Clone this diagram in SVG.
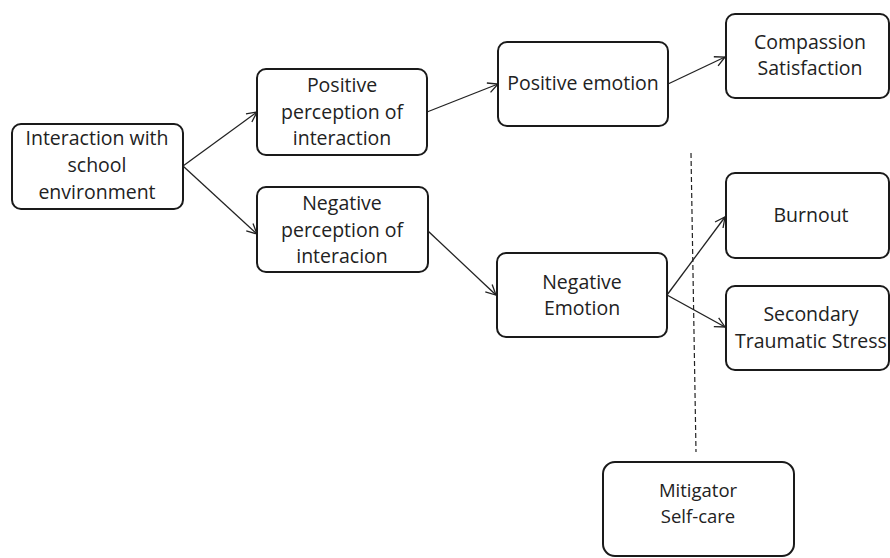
<svg xmlns="http://www.w3.org/2000/svg" width="890" height="558" viewBox="0 0 890 558">
<style>
.box{fill:#fff;stroke:#1a1a1a;stroke-width:2}
.t{font-family:"Open Sans","Noto Sans",sans-serif;font-size:19.5px;fill:#222;text-anchor:middle}
.ts{font-family:"Open Sans","Noto Sans",sans-serif;font-size:18.5px;fill:#222;text-anchor:middle}
.c{fill:none;stroke:#222;stroke-width:1.3}
</style>
<defs>
<marker id="a" viewBox="0 0 12 12" refX="11" refY="6" markerWidth="12" markerHeight="12" markerUnits="userSpaceOnUse" orient="auto">
<path d="M1,1 L11,6 L1,11" fill="none" stroke="#222" stroke-width="1.3"/>
</marker>
</defs>
<rect width="890" height="558" fill="#fff"/>
<g id="connectors">
<line class="c" x1="183" y1="166" x2="257" y2="112" marker-end="url(#a)"/>
<line class="c" x1="183" y1="166" x2="257" y2="234" marker-end="url(#a)"/>
<line class="c" x1="427" y1="112" x2="498" y2="84" marker-end="url(#a)"/>
<line class="c" x1="668" y1="84" x2="725" y2="57" marker-end="url(#a)"/>
<line class="c" x1="428" y1="231" x2="496" y2="295" marker-end="url(#a)"/>
<line class="c" x1="667" y1="295" x2="725" y2="217" marker-end="url(#a)"/>
<line class="c" x1="667" y1="295" x2="725" y2="327" marker-end="url(#a)"/>
<line x1="691" y1="153" x2="696" y2="452" stroke="#222" stroke-width="1.2" stroke-dasharray="5,3"/>
</g>
<g id="n-interaction">
<rect class="box" x="12" y="124" width="171" height="85" rx="9"/>
<text class="t" x="97" y="145.4">Interaction with</text>
<text class="t" x="97" y="172">school</text>
<text class="t" x="97" y="198.6">environment</text>
</g>
<g id="n-posperc">
<rect class="box" x="257" y="69" width="170" height="86" rx="9"/>
<text class="t" x="342" y="91.9">Positive</text>
<text class="t" x="342" y="118.5">perception of</text>
<text class="t" x="342" y="145.1">interaction</text>
</g>
<g id="n-negperc">
<rect class="box" x="257" y="187" width="171" height="85" rx="9"/>
<text class="t" x="342" y="209.9">Negative</text>
<text class="t" x="342" y="236.5">perception of</text>
<text class="t" x="342" y="263.1">interacion</text>
</g>
<g id="n-posemo">
<rect class="box" x="498" y="42" width="170" height="84" rx="9"/>
<text class="t" x="583" y="90">Positive emotion</text>
</g>
<g id="n-compassion">
<rect class="box" x="726" y="14" width="163" height="84" rx="9"/>
<text class="t" x="810" y="48.7">Compassion</text>
<text class="t" x="810" y="75.3">Satisfaction</text>
</g>
<g id="n-negemo">
<rect class="box" x="497" y="253" width="170" height="84" rx="9"/>
<text class="t" x="582" y="288.7">Negative</text>
<text class="t" x="582" y="315.3">Emotion</text>
</g>
<g id="n-burnout">
<rect class="box" x="726" y="173" width="163" height="85" rx="9"/>
<text class="t" x="811" y="222">Burnout</text>
</g>
<g id="n-sts">
<rect class="box" x="726" y="286" width="163" height="84" rx="9"/>
<text class="t" x="811" y="321.2">Secondary</text>
<text class="t" x="811" y="347.8">Traumatic Stress</text>
</g>
<g id="n-mitigator">
<rect class="box" x="603" y="462" width="191" height="94" rx="12"/>
<text class="ts" x="698" y="497">Mitigator</text>
<text class="ts" x="698" y="523">Self-care</text>
</g>
</svg>
